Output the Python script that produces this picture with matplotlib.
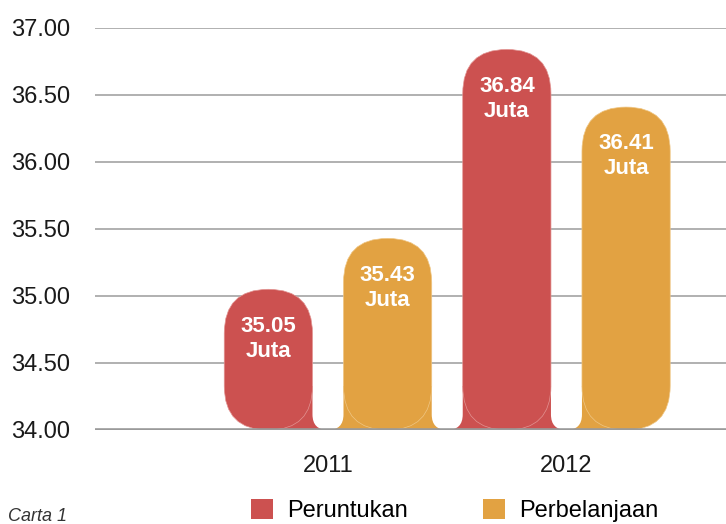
import matplotlib
matplotlib.use("Agg")
import matplotlib.pyplot as plt
from matplotlib.patches import FancyBboxPatch, Rectangle

years = ['2011', '2012']
series = ['Peruntukan', 'Perbelanjaan']
peruntukan = [35.05, 36.84]
perbelanjaan = [35.43, 36.41]
colors = ['#cc5150', '#e2a242']
edge_colors = ['#e29492', '#efc684']
yticks = [34.0, 34.5, 35.0, 35.5, 36.0, 36.5, 37.0]

plt.rcParams['font.family'] = ['Liberation Sans', 'DejaVu Sans']

fig = plt.figure(figsize=(7.26, 5.24), dpi=100)
ax = fig.add_axes([95/726, 94/524, 631/726, 402/524])
base = yticks[0]
ax.set_ylim(base, yticks[-1])
ax.set_xlim(-0.977, 1.669)

# pixel scale so the rounded ends come out circular
W, H = 631, 402
x0, x1 = ax.get_xlim()
y0, y1 = ax.get_ylim()
px_x = W / (x1 - x0)
px_y = H / (y1 - y0)
asp = px_x / px_y

w = 0.37
off = 0.25
bars = []
for i, yr in enumerate(years):
    bars.append((i - off, peruntukan[i], colors[0], edge_colors[0]))
    bars.append((i + off, perbelanjaan[i], colors[1], edge_colors[1]))

r = w / 2
for cx, v, c, ec in bars:
    p = FancyBboxPatch((cx - r, base), w, v - base,
                       boxstyle="round,pad=0,rounding_size=%f" % r,
                       mutation_aspect=asp, fc=c, ec=ec, lw=0.5, zorder=2)
    ax.add_patch(p)
    ax.annotate('%.2f\nJuta' % v, (cx, v), xytext=(0, -19), textcoords='offset points',
                ha='center', va='top', color='white', fontweight='bold',
                fontsize=16, linespacing=1.25, zorder=4)

# feet joining neighbouring bars at the baseline, with a white notch between
h = r * asp
for (ca, va_, cola, _), (cb, vb, colb, _) in zip(bars[:-1], bars[1:]):
    mid = (ca + cb) / 2
    ax.add_patch(Rectangle((ca, base), mid - ca, h, fc=cola, ec='none', zorder=1.5))
    ax.add_patch(Rectangle((mid, base), cb - mid, h, fc=colb, ec='none', zorder=1.5))
    g = (cb - ca) - w
    ax.add_patch(FancyBboxPatch((mid - g/2, base), g, h * 1.3,
                                boxstyle="round,pad=0,rounding_size=%f" % (g/2),
                                mutation_aspect=asp, fc='white', ec='none', zorder=1.6))

ax.set_yticks(yticks)
ax.set_yticklabels(['%.2f' % t for t in yticks])
ax.yaxis.grid(True, color='#a3a3a3', lw=1.2)
ax.set_axisbelow(True)
ax.axhline(base, color='#9a9a9a', lw=2.6, zorder=3)
for s in ax.spines.values():
    s.set_visible(False)
ax.set_xticks(range(len(years)))
ax.set_xticklabels(years)
ax.tick_params(axis='y', length=0, pad=18, labelsize=17, labelcolor='#1a1a1a')
ax.tick_params(axis='x', length=0, pad=18, labelsize=17, labelcolor='#1a1a1a')

handles = [Rectangle((0, 0), 1, 1, fc=c, ec='none') for c in colors]
fig.legend(handles, series, loc='upper left', bbox_to_anchor=(251/726, 25/524),
           ncol=2, frameon=False, fontsize=17, handlelength=0.95, handleheight=0.95,
           handletextpad=0.6, columnspacing=3.15, borderaxespad=0, borderpad=0)
fig.text(8/726, 3/524, 'Carta 1', style='italic', fontsize=13, color='#333333', va='baseline')

fig.savefig('out.png', dpi=100)
